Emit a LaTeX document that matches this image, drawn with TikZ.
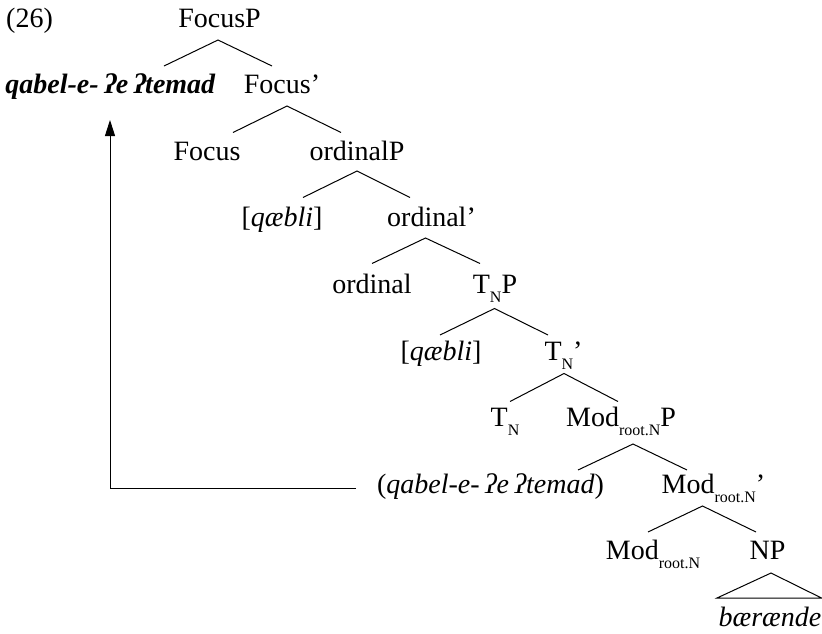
\documentclass[tikz,border=0pt]{standalone}
\usepackage{fontspec}
\setmainfont{Liberation Serif}
\usetikzlibrary{arrows.meta}
\newcommand{\sbs}[1]{\raisebox{-9pt}{\fontsize{16}{16}\selectfont #1}}
\newcommand{\gs}{\hspace{5.5pt}ʔ}
\newcommand{\mkbranch}[7]{%
  \coordinate (#1-a) at (#2,#3);
  \coordinate (#1-l) at (#4,#5);
  \coordinate (#1-r) at (#6,#7);
  \draw[branchline] (#1-l) -- (#1-a) -- (#1-r);}
\begin{document}
\begin{tikzpicture}[x=1pt,y=-1pt,
  every node/.style={inner sep=0pt, anchor=base, font=\fontsize{28}{32}\selectfont},
  branchline/.style={line width=1pt, line join=miter},
  movearrow/.style={line width=1pt, -{Triangle[width=10pt,length=16pt]}}]
\useasboundingbox (0,0) rectangle (822,633);
\node[anchor=base west] (ex) at (6,27) {(26)};
\node (FocusP) at (219.5,27) {FocusP};
\node (qf) at (110.5,93.6) {\textbf{\textit{qabel-e-\gs e\gs temad}}};
\node (Focusbar) at (282,93.6) {Focus’};
\node (Focus) at (207,160.2) {Focus};
\node (ordP) at (357,160.2) {ordinalP};
\node (qa) at (282,226.8) {[\textit{qæbli}]};
\node (ordbar) at (431.5,226.8) {ordinal’};
\node (ord) at (372,293.4) {ordinal};
\node (TP) at (495,293.4) {T\sbs{N}P};
\node (qb) at (441,360) {[\textit{qæbli}]};
\node (Tbar) at (563.5,360) {T\sbs{N}’};
\node (T) at (505,426.6) {T\sbs{N}};
\node (ModP) at (621,426.6) {Mod\sbs{root.N}P};
\node (qt) at (490.5,493.2) {(\textit{qabel-e-\gs e\gs temad})};
\node (Modbar) at (713.5,493.2) {Mod\sbs{root.N}’};
\node (Mod) at (653,559.8) {Mod\sbs{root.N}};
\node (NP) at (767.5,559.8) {NP};
\node (bae) at (770,626.4) {\textit{bærænde}};
\mkbranch{b1}{218}{40}{164}{66}{272}{66}
\mkbranch{b2}{287}{106}{233}{132.5}{341}{132.5}
\mkbranch{b3}{357}{171}{303}{197.5}{410}{197.5}
\mkbranch{b4}{425.5}{238}{372}{263.5}{480}{263.5}
\mkbranch{b5}{494.5}{308.5}{440}{335}{548}{335}
\mkbranch{b6}{564}{373.5}{510}{401.5}{618}{401.5}
\mkbranch{b7}{633}{444}{578}{470}{687}{470}
\mkbranch{b8}{702.5}{506}{648}{532}{756}{532}
\coordinate (tri-a) at (771,573);
\coordinate (tri-l) at (717,598);
\coordinate (tri-r) at (821.5,598);
\draw[branchline] (tri-a) -- (tri-l) -- (tri-r) -- cycle;
\coordinate (arrS) at (356,488);
\coordinate (arrC) at (110,488);
\coordinate (arrT) at (110,120);
\draw[movearrow] (arrS) -- (arrC) -- (arrT);
\end{tikzpicture}
\end{document}
